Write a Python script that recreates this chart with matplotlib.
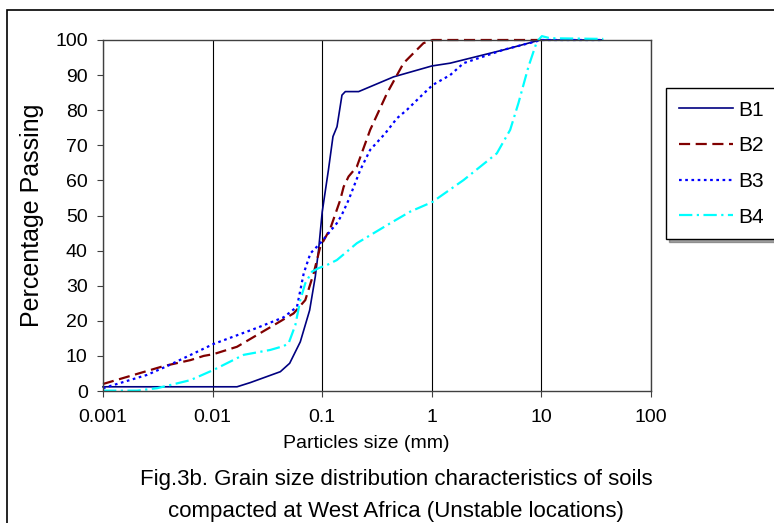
import numpy as np
import matplotlib
matplotlib.use("Agg")
import matplotlib.pyplot as plt
from matplotlib.patches import Rectangle

plt.rcParams['font.family'] = ['Liberation Sans', 'DejaVu Sans']

# data (particle size mm, % passing)
b1_x = [0.001, 0.0167, 0.0221, 0.0415, 0.0505, 0.0631, 0.0768, 0.0865, 0.0927, 0.1, 0.114,
        0.1254, 0.1365, 0.1515, 0.1625, 0.215, 0.448, 1.0, 1.47, 4.67, 9.7, 36]
b1_y = [1.2, 1.2, 2.4, 5.5, 7.9, 14.0, 23.0, 32.6, 40.2, 51.0, 63.0,
        72.5, 75.3, 84.3, 85.3, 85.3, 89.5, 92.6, 93.4, 97.3, 100, 100]

b2_x = [0.001, 0.00358, 0.00628, 0.0083, 0.0102, 0.0167, 0.0387, 0.0548, 0.0701, 0.0835, 0.096,
        0.1186, 0.146, 0.157, 0.174, 0.207, 0.274, 0.390, 0.552, 0.839, 1.02, 10]
b2_y = [2.0, 7.1, 8.8, 10.0, 10.5, 12.6, 19.3, 22.1, 25.9, 33.5, 41.1,
        46.3, 54.4, 58.2, 61.1, 63.9, 74.4, 84.8, 93.4, 99.1, 100, 100]

b3_x = [0.001, 0.00253, 0.00385, 0.0102, 0.0255, 0.0445, 0.0589, 0.0678, 0.078, 0.096, 0.136, 0.15,
        0.174, 0.222, 0.274, 0.376, 0.481, 0.593, 0.784, 1.02, 1.47, 1.95, 4.5, 10, 36]
b3_y = [0.8, 4.6, 7.1, 13.4, 18.0, 21.0, 24.0, 33.5, 39.2, 42.1, 47.8, 50.0,
        54.4, 62.9, 68.7, 73.4, 77.7, 80.1, 83.8, 87.2, 90.0, 93.4, 97.2, 100, 100]

b4_x = [0.001, 0.00205, 0.00312, 0.00628, 0.0102, 0.0192, 0.0336, 0.0445, 0.0494, 0.0569, 0.0631,
        0.0701, 0.0807, 0.0927, 0.1106, 0.136, 0.168, 0.207, 0.418, 0.635, 1.02, 1.19, 1.95,
        3.92, 5.19, 6.17, 7.62, 9.08, 10.1, 12.0, 36.7]
b4_y = [0.1, 0.1, 0.8, 3.1, 6.0, 10.3, 11.7, 12.8, 13.6, 18.8, 25.9,
        30.7, 34.0, 35.0, 35.9, 37.3, 39.7, 42.1, 47.8, 51.1, 53.9, 55.4, 60.1,
        67.7, 74.4, 82.0, 92.4, 99.5, 101.1, 100.5, 100.3]

series_names = ['B1', 'B2', 'B3', 'B4']
x_ticks = [0.001, 0.01, 0.1, 1, 10, 100]
x_tick_labels = ['0.001', '0.01', '0.1', '1', '10', '100']
y_ticks = list(range(0, 101, 10))

W, H = 774, 523
fig = plt.figure(figsize=(W / 100, H / 100), dpi=100)
ax = fig.add_axes([103 / W, 1 - 391 / H, 548 / W, 351 / H])

ax.plot(b1_x, b1_y, color='#000080', lw=1.2, ls='-', label=series_names[0], clip_on=False)
ax.plot(b2_x, b2_y, color='#800000', lw=1.6, ls=(0, (5, 2.5)), label=series_names[1], clip_on=False)
ax.plot(b3_x, b3_y, color='#0000FF', lw=1.6, ls=(0, (1.2, 1.6)), label=series_names[2], clip_on=False)
ax.plot(b4_x, b4_y, color='#00FFFF', lw=1.6, ls=(0, (6, 2, 1, 2)), label=series_names[3], clip_on=False)

ax.set_xscale('log')
ax.set_xlim(0.001, 100)
ax.set_ylim(0, 100)
ax.set_xticks(x_ticks, labels=x_tick_labels)
ax.set_yticks(y_ticks)
ax.minorticks_off()
ax.tick_params(axis='both', labelsize=14, direction='out', length=4, width=0.8, color='#404040')
ax.tick_params(axis='y', pad=7)
ax.tick_params(axis='x', pad=9)
ax.grid(axis='x', which='major', color='black', lw=0.8)
for s in ax.spines.values():
    s.set_color('#404040')
    s.set_linewidth(1.0)

ax.set_ylabel('Percentage Passing', fontsize=18)
ax.yaxis.set_label_coords((32 - 103) / 548, 0.5)
ax.yaxis.label.set_va('center')
ax.set_xlabel('Particles size (mm)', fontsize=14)
ax.xaxis.set_label_coords(0.481, (391 - 443) / 351)
ax.xaxis.label.set_va('center')

fig.legend(loc='upper left', bbox_to_anchor=(666 / W, 1 - 88 / H), borderaxespad=0,
           fontsize=15, frameon=True, fancybox=False, shadow=True, edgecolor='black',
           handlelength=2.6, handletextpad=0.25, labelspacing=0.8, borderpad=0.6)

fig.text(396 / W, 1 - 480 / H, 'Fig.3b. Grain size distribution characteristics of soils',
         ha='center', va='center', fontsize=16)
fig.text(396 / W, 1 - 511 / H, 'compacted at West Africa (Unstable locations)',
         ha='center', va='center', fontsize=16)

# outer chart border
fig.add_artist(Rectangle((7 / W, -0.1), 1.0, 1 - 10 / H + 0.1, transform=fig.transFigure,
                         fill=False, ec='black', lw=1.2, clip_on=False))

fig.savefig('out.png', dpi=100)
